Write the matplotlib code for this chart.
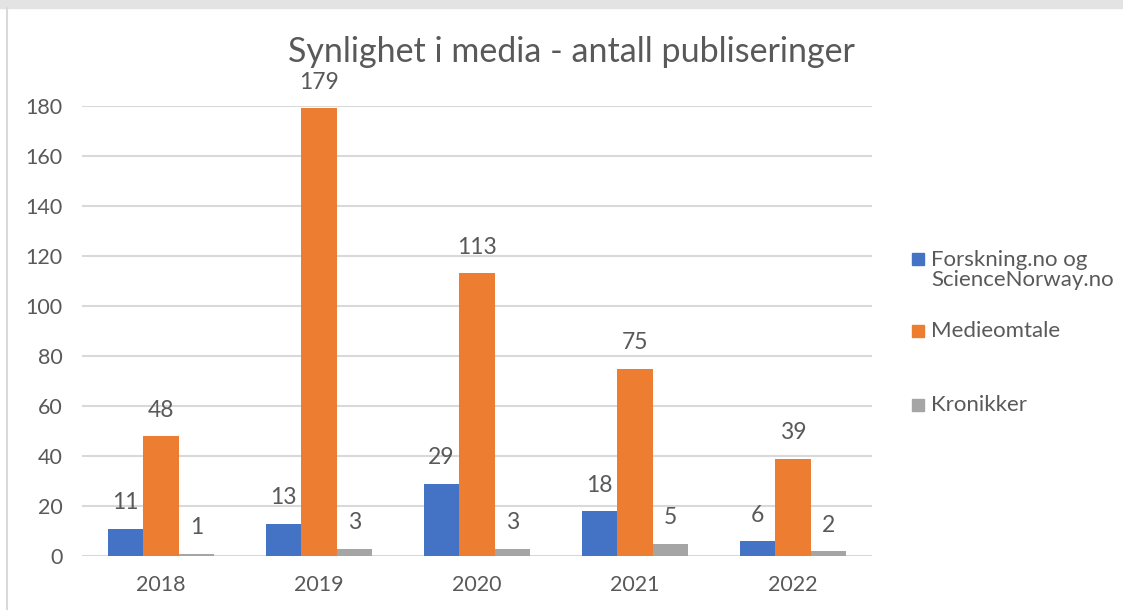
import matplotlib
matplotlib.use("Agg")
import matplotlib.pyplot as plt
import numpy as np
from matplotlib.patches import Rectangle
from matplotlib.lines import Line2D

years = ["2018", "2019", "2020", "2021", "2022"]
series_names = ["Forskning.no og\nScienceNorway.no", "Medieomtale", "Kronikker"]
forskning = [11, 13, 29, 18, 6]
medieomtale = [48, 179, 113, 75, 39]
kronikker = [1, 3, 3, 5, 2]
title = "Synlighet i media - antall publiseringer"
yticks = [0, 20, 40, 60, 80, 100, 120, 140, 160, 180]

colors = ["#4472C4", "#ED7D31", "#A5A5A5"]
txt = "#595959"
plt.rcParams["font.family"] = ["Lato", "DejaVu Sans"]

fig = plt.figure(figsize=(11.23, 6.10), dpi=100)
W, H = 1123, 610
ax = fig.add_axes([82 / W, 1 - 556 / H, 790 / W, 450 / H])

x = np.arange(len(years))
bw = 0.224
data = [forskning, medieomtale, kronikker]
for i, (vals, c) in enumerate(zip(data, colors)):
    pos = x + (i - 1) * bw
    ax.bar(pos, vals, width=bw, color=c, zorder=3)
    for px, v in zip(pos, vals):
        ax.annotate(str(v), (px, v), xytext=(0, 18.5), textcoords="offset points",
                    ha="center", va="center", fontsize=16.5, color=txt)

ax.set_xlim(-0.5, len(years) - 0.5)
ax.set_ylim(0, 180)
ax.set_yticks(yticks)
ax.set_yticklabels([str(t) for t in yticks])
ax.set_xticks(x)
ax.set_xticklabels(years)
ax.tick_params(axis="both", length=0, labelsize=15.5, labelcolor=txt)
ax.tick_params(axis="y", pad=14)
ax.tick_params(axis="x", pad=14)
ax.grid(axis="y", color="#D9D9D9", linewidth=1.5, zorder=0)
for s in ax.spines.values():
    s.set_visible(False)
ax.set_facecolor("none")

fig.text(571 / W, 1 - 52 / H, title, ha="center", va="center", fontsize=24.5, color=txt)

# legend (manual)
leg_y = [270, 331, 405]
for name, c, ly in zip(series_names, colors, leg_y):
    sq_y = 259 if "\n" in name else ly
    fig.patches.append(Rectangle((912 / W, 1 - (sq_y + 6) / H), 12 / W, 12 / H,
                                 transform=fig.transFigure, color=c))
    fig.text(931 / W, 1 - ly / H, name, ha="left", va="center", fontsize=16,
             color=txt, linespacing=1.05)

# outer frame bits
fig.patches.append(Rectangle((0, 1 - 8 / H), 1, 8 / H, transform=fig.transFigure,
                             color="#E3E3E3"))
fig.lines.append(Line2D([7 / W, 7 / W], [0, 1 - 8 / H], transform=fig.transFigure,
                        color="#D9D9D9", linewidth=1.5))

fig.savefig("out.png", dpi=100)
